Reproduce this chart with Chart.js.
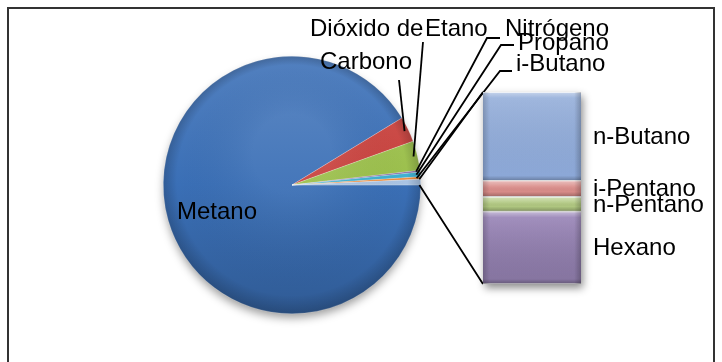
<!DOCTYPE html>
<html>
<head>
<meta charset="utf-8">
<script src="https://cdn.jsdelivr.net/npm/chart.js@4.4.1/dist/chart.umd.min.js"></script>
<style>
  html, body { margin: 0; padding: 0; background: #fff; }
  #wrap { position: relative; width: 722px; height: 362px; overflow: hidden; }
  #pie { position: absolute; left: 0; top: 0; }
  #bar { position: absolute; left: 473px; top: 82px; }
</style>
</head>
<body>
<div id="wrap">
  <canvas id="pie" width="722" height="362"></canvas>
  <canvas id="bar" width="122" height="220"></canvas>
</div>
<script>
// composition, % molar
const pieLabels = ['Metano', 'Dióxido de Carbono', 'Etano', 'Nitrógeno', 'Propano', 'i-Butano'];
const pieValues = [91.3, 3.2, 3.7, 0.2, 0.6, 0.3];
// the small components, split out into the stacked bar
const barLabels = ['n-Butano', 'i-Pentano', 'n-Pentano', 'Hexano'];
const barValues = [0.33, 0.06, 0.055, 0.27];

const otherTotal = barValues.reduce((a, b) => a + b, 0);

const pieColors = ['#3a6fb6', '#c8413d', '#9bbf4b', '#7f62a3', '#3fb0d0', '#ec8a3a', '#a9c3e3'];
const barColors = ['#8aa6d6', '#d98c89', '#b5cd84', '#a28dc2'];

const FONT = '24px "Liberation Sans", Arial, sans-serif';

// where each pie label sits (left edge, vertical middle) and the path its leader takes
const pieLabelLayout = [
  { lines: [['Metano', 177, 212]] },
  { lines: [['Dióxido de', 310, 29], ['Carbono', 320, 62]], leader: [[399, 80]] },
  { lines: [['Etano', 425, 29]], leader: [[423, 42]] },
  { lines: [['Nitrógeno', 505, 29]], leader: [[500, 38], [487, 38]] },
  { lines: [['Propano', 518, 43]], leader: [[514, 45], [501, 45]] },
  { lines: [['i-Butano', 516, 64]], leader: [[512, 71], [500, 71]] }
];

function shade(hex, f) {
  const n = parseInt(hex.slice(1), 16);
  let r = n >> 16, g = (n >> 8) & 255, b = n & 255;
  const t = f < 0 ? 0 : 255, p = Math.abs(f);
  r = Math.round((t - r) * p + r);
  g = Math.round((t - g) * p + g);
  b = Math.round((t - b) * p + b);
  return `rgb(${r},${g},${b})`;
}

function vGradient(ctx, top, bottom, hex) {
  const g = ctx.createLinearGradient(0, top, 0, bottom);
  g.addColorStop(0, shade(hex, 0.12));
  g.addColorStop(0.5, hex);
  g.addColorStop(1, shade(hex, -0.18));
  return g;
}

// ---------- stacked bar of the minor components ----------
const barShading = {
  id: 'barShading',
  beforeDatasetsDraw(chart) {
    const { ctx, chartArea: a } = chart;
    ctx.save();
    ctx.shadowColor = 'rgba(0,0,0,0.45)';
    ctx.shadowBlur = 8;
    ctx.shadowOffsetX = 2;
    ctx.shadowOffsetY = 4;
    ctx.fillStyle = '#888';
    ctx.fillRect(a.left, a.top, a.right - a.left, a.bottom - a.top);
    ctx.restore();
  },
  afterDatasetsDraw(chart) {
    const { ctx } = chart;
    chart.data.datasets.forEach((ds, i) => {
      chart.getDatasetMeta(i).data.forEach(el => {
        const top = Math.min(el.y, el.base), bottom = Math.max(el.y, el.base);
        const left = el.x - el.width / 2, right = el.x + el.width / 2;
        const h = bottom - top;
        ctx.save();
        // bevel: light upper edge, darker lower edge and sides
        let g = ctx.createLinearGradient(0, top, 0, bottom);
        g.addColorStop(0, 'rgba(255,255,255,0.45)');
        g.addColorStop(Math.min(0.5, 6 / h), 'rgba(255,255,255,0.08)');
        g.addColorStop(Math.max(0.5, 1 - 5 / h), 'rgba(0,0,0,0)');
        g.addColorStop(1, 'rgba(0,0,0,0.25)');
        ctx.fillStyle = g;
        ctx.fillRect(left, top, right - left, h);
        g = ctx.createLinearGradient(left, 0, right, 0);
        g.addColorStop(0, 'rgba(0,0,0,0.18)');
        g.addColorStop(0.07, 'rgba(0,0,0,0)');
        g.addColorStop(0.93, 'rgba(0,0,0,0)');
        g.addColorStop(1, 'rgba(0,0,0,0.22)');
        ctx.fillStyle = g;
        ctx.fillRect(left, top, right - left, h);
        ctx.restore();
      });
    });
  }
};

const barChart = new Chart(document.getElementById('bar'), {
  type: 'bar',
  data: {
    labels: [''],
    datasets: barLabels.map((label, i) => ({
      label,
      data: [barValues[i]],
      backgroundColor: c => {
        const a = c.chart.chartArea;
        return a ? vGradient(c.chart.ctx, a.top, a.bottom, barColors[i]) : barColors[i];
      },
      borderColor: 'rgba(255,255,255,0.95)',
      borderWidth: { top: 1, bottom: 1, left: 0, right: 0 },
      borderSkipped: false,
      barPercentage: 1,
      categoryPercentage: 1
    }))
  },
  options: {
    responsive: false,
    devicePixelRatio: 1,
    animation: false,
    layout: { padding: { left: 10, top: 10, right: 14, bottom: 18 } },
    plugins: { legend: { display: false }, tooltip: { enabled: false } },
    scales: {
      x: { display: false, stacked: true },
      y: { display: false, stacked: true, reverse: true, min: 0, max: otherTotal }
    }
  },
  plugins: [barShading]
});

// ---------- pie, labels, leader lines and the links to the bar ----------
const barOffset = { x: 473, y: 82 };

function arcPoint(arc, angle, k) {
  return [arc.x + Math.cos(angle) * arc.outerRadius * k, arc.y + Math.sin(angle) * arc.outerRadius * k];
}

const pieDecor = {
  id: 'pieDecor',
  beforeDraw(chart) {
    const { ctx } = chart;
    ctx.save();
    ctx.fillStyle = '#fff';
    ctx.fillRect(0, 0, chart.width, chart.height);
    ctx.strokeStyle = '#333';
    ctx.lineWidth = 2;
    ctx.beginPath();
    ctx.moveTo(8, 362);
    ctx.lineTo(8, 8);
    ctx.lineTo(714, 8);
    ctx.lineTo(714, 362);
    ctx.stroke();
    ctx.restore();
  },
  beforeDatasetsDraw(chart) {
    const { ctx } = chart;
    const arc = chart.getDatasetMeta(0).data[0];
    ctx.save();
    ctx.shadowColor = 'rgba(0,0,0,0.4)';
    ctx.shadowBlur = 10;
    ctx.shadowOffsetY = 5;
    ctx.fillStyle = '#fff';
    ctx.beginPath();
    ctx.arc(arc.x, arc.y, arc.outerRadius - 1, 0, Math.PI * 2);
    ctx.fill();
    ctx.restore();
  },
  afterDatasetsDraw(chart) {
    const { ctx } = chart;
    const arc = chart.getDatasetMeta(0).data[0];
    ctx.save();
    ctx.beginPath();
    ctx.arc(arc.x, arc.y, arc.outerRadius, 0, Math.PI * 2);
    ctx.clip();
    const g = ctx.createRadialGradient(arc.x, arc.y - arc.outerRadius * 0.25, arc.outerRadius * 0.3,
                                       arc.x, arc.y, arc.outerRadius);
    g.addColorStop(0, 'rgba(255,255,255,0.06)');
    g.addColorStop(0.85, 'rgba(0,0,0,0)');
    g.addColorStop(1, 'rgba(0,0,0,0.18)');
    ctx.fillStyle = g;
    ctx.fillRect(arc.x - arc.outerRadius, arc.y - arc.outerRadius, arc.outerRadius * 2, arc.outerRadius * 2);
    ctx.restore();
  },
  afterDraw(chart) {
    const { ctx } = chart;
    const arcs = chart.getDatasetMeta(0).data;
    ctx.save();
    ctx.strokeStyle = '#000';
    ctx.lineWidth = 1.8;

    // leader lines
    pieLabelLayout.forEach((lay, i) => {
      if (!lay.leader) return;
      const a = arcs[i];
      const mid = (a.startAngle + a.endAngle) / 2;
      const [px, py] = arcPoint(a, mid, 0.97);
      ctx.beginPath();
      ctx.moveTo(lay.leader[0][0], lay.leader[0][1]);
      for (let k = 1; k < lay.leader.length; k++) ctx.lineTo(lay.leader[k][0], lay.leader[k][1]);
      ctx.lineTo(px, py);
      ctx.stroke();
    });

    // links from the grouped slice to the bar
    const other = arcs[arcs.length - 1];
    const segs = barChart.data.datasets.map((d, i) => barChart.getDatasetMeta(i).data[0]);
    const barTop = Math.min(...segs.map(e => Math.min(e.y, e.base))) + barOffset.y;
    const barBottom = Math.max(...segs.map(e => Math.max(e.y, e.base))) + barOffset.y;
    const barLeft = segs[0].x - segs[0].width / 2 + barOffset.x;
    const barRight = segs[0].x + segs[0].width / 2 + barOffset.x;
    const [ux, uy] = arcPoint(other, other.startAngle, 0.99);
    const [lx, ly] = arcPoint(other, other.endAngle, 0.99);
    ctx.beginPath();
    ctx.moveTo(barLeft, barTop);
    ctx.lineTo(ux, uy);
    ctx.moveTo(barLeft, barBottom);
    ctx.lineTo(lx, ly);
    ctx.stroke();

    // text
    ctx.fillStyle = '#000';
    ctx.font = FONT;
    ctx.textBaseline = 'middle';
    ctx.textAlign = 'left';
    pieLabelLayout.forEach(lay => lay.lines.forEach(([t, x, y]) => ctx.fillText(t, x, y)));
    segs.forEach((e, i) => {
      const y = (e.y + e.base) / 2 + barOffset.y;
      ctx.fillText(barLabels[i], barRight + 12, y + 1);
    });
    ctx.restore();
  }
};

new Chart(document.getElementById('pie'), {
  type: 'pie',
  data: {
    labels: [...pieLabels, 'Otros'],
    datasets: [{
      data: [...pieValues, otherTotal],
      backgroundColor: c => {
        const a = c.chart.chartArea;
        const hex = pieColors[c.dataIndex];
        return a ? vGradient(c.chart.ctx, a.top, a.bottom, hex) : hex;
      },
      borderColor: 'rgba(255,255,255,0.35)',
      borderWidth: 0.6
    }]
  },
  options: {
    responsive: false,
    devicePixelRatio: 1,
    animation: false,
    rotation: 90,
    layout: { padding: { left: 163, top: 56, right: 301, bottom: 48 } },
    plugins: { legend: { display: false }, tooltip: { enabled: false } }
  },
  plugins: [pieDecor]
});
</script>
</body>
</html>
